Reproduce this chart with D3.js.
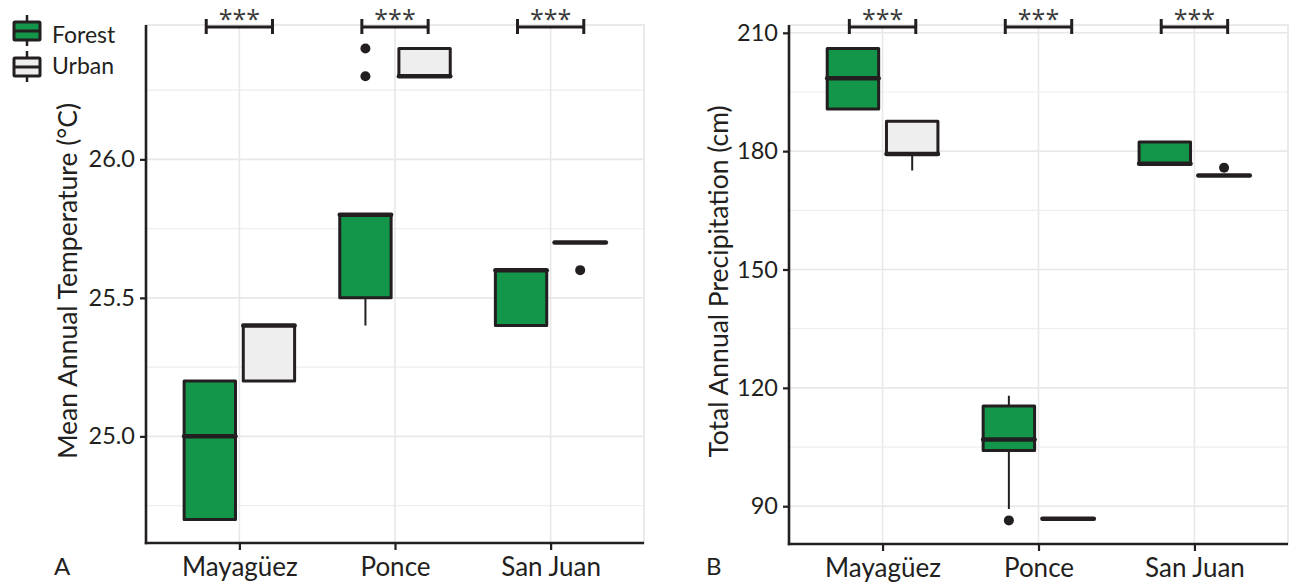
<!DOCTYPE html>
<html><head><meta charset="utf-8">
<script src="https://cdn.jsdelivr.net/npm/d3@7/dist/d3.min.js"></script>
<style>
body{margin:0;background:#fff}
svg{display:block}
text{font-family:"Lato","Open Sans",sans-serif;fill:#231f20}
</style>
</head><body>
<svg id="chart" width="1290" height="582"></svg>
<script>
// ---------- data ----------
const sites = ["Mayagüez", "Ponce", "San Juan"];
const groups = ["Forest", "Urban"];
const groupColors = ["#139649", "#eeeeee"];

// five-number summaries per site: [min, q1, median, q3, max]
const tempForest = [[24.7, 24.7, 25.0, 25.2, 25.2], [25.4, 25.5, 25.8, 25.8, 25.8], [25.4, 25.4, 25.6, 25.6, 25.6]];
const tempUrban  = [[25.2, 25.2, 25.4, 25.4, 25.4], [26.3, 26.3, 26.3, 26.4, 26.4], [25.7, 25.7, 25.7, 25.7, 25.7]];
const tempForestOutliers = [[], [26.3, 26.4], []];
const tempUrbanOutliers  = [[], [], [25.6]];

const precipForest = [[190.7, 190.7, 198.5, 206.0, 206.0], [89.3, 104.1, 106.9, 115.4, 118.0], [176.3, 176.8, 176.8, 182.3, 182.3]];
const precipUrban  = [[175.1, 179.3, 179.3, 187.6, 187.6], [86.8, 86.8, 86.8, 86.8, 86.8], [173.8, 173.8, 173.8, 173.8, 173.8]];
const precipForestOutliers = [[], [86.4], []];
const precipUrbanOutliers  = [[], [], [175.8]];

const tempTicks = [25.0, 25.5, 26.0];
const tempMinorTicks = [24.75, 25.25, 25.75, 26.25];
const precipTicks = [90, 120, 150, 180, 210];
const precipMinorTicks = [105, 135, 165, 195];
const sigLabels = ["***", "***", "***"];

// ---------- drawing ----------
const svg = d3.select("#chart");
const INK = "#231f20";

function panel(cfg) {
  const {left, right, top, bottom, forest, urban, fOut, uOut, ticks, minor, fmt, title, titleX, letter, letterX} = cfg;
  const g = svg.append("g");
  const allVals = forest.flat().concat(urban.flat(), fOut.flat(), uOut.flat());
  const [lo, hi] = d3.extent(allVals);
  const pad = (hi - lo) * 0.05;
  const y = d3.scaleLinear().domain([lo - pad, hi + pad]).range([bottom, top]);
  const x = d3.scalePoint().domain(sites).range([left, right]).padding(0.6);
  const step = x.step();
  const dodge = d3.scaleBand().domain(groups).range([-0.38 * step, 0.38 * step]);
  const boxW = 0.33 * step;

  // grid
  g.selectAll(".gmin").data(minor).join("line")
    .attr("x1", left).attr("x2", right).attr("y1", d => y(d)).attr("y2", d => y(d))
    .attr("stroke", "#eeeeee").attr("stroke-width", 1.2);
  g.selectAll(".gmaj").data(ticks).join("line")
    .attr("x1", left).attr("x2", right).attr("y1", d => y(d)).attr("y2", d => y(d))
    .attr("stroke", "#e8e8e8").attr("stroke-width", 1.6);
  g.selectAll(".gx").data(sites).join("line")
    .attr("x1", d => x(d)).attr("x2", d => x(d)).attr("y1", top).attr("y2", bottom)
    .attr("stroke", "#e8e8e8").attr("stroke-width", 1.6);
  g.append("rect").attr("x", left).attr("y", top).attr("width", right - left).attr("height", bottom - top)
    .attr("fill", "none").attr("stroke", "#e8e8e8").attr("stroke-width", 1.8);

  // boxes
  const series = [{name: "Forest", stats: forest, out: fOut}, {name: "Urban", stats: urban, out: uOut}];
  series.forEach((s, si) => {
    const col = groupColors[si];
    s.stats.forEach((st, i) => {
      const cx = x(sites[i]) + dodge(s.name) + dodge.bandwidth() / 2;
      const [mn, q1, md, q3, mx] = st;
      g.append("line").attr("x1", cx).attr("x2", cx).attr("y1", y(q3)).attr("y2", y(mx))
        .attr("stroke", INK).attr("stroke-width", 2);
      g.append("line").attr("x1", cx).attr("x2", cx).attr("y1", y(q1)).attr("y2", y(mn))
        .attr("stroke", INK).attr("stroke-width", 2);
      g.append("rect").attr("x", cx - boxW / 2).attr("y", y(q3)).attr("width", boxW)
        .attr("height", Math.max(0, y(q1) - y(q3)))
        .attr("fill", col).attr("stroke", INK).attr("stroke-width", 3).attr("stroke-linejoin", "round");
      g.append("line").attr("x1", cx - boxW / 2).attr("x2", cx + boxW / 2).attr("y1", y(md)).attr("y2", y(md))
        .attr("stroke", INK).attr("stroke-width", 4.5).attr("stroke-linecap", "round");
      s.out[i].forEach(o => {
        g.append("circle").attr("cx", cx).attr("cy", y(o)).attr("r", 5).attr("fill", INK);
      });
    });
  });

  // significance brackets
  sites.forEach((s, i) => {
    const cx = x(s), hw = 0.213 * step, by = top + 2;
    const bg = g.append("g").attr("stroke", INK).attr("stroke-width", 3);
    bg.append("line").attr("x1", cx - hw).attr("x2", cx + hw).attr("y1", by).attr("y2", by);
    bg.append("line").attr("x1", cx - hw).attr("x2", cx - hw).attr("y1", by - 8).attr("y2", by + 7);
    bg.append("line").attr("x1", cx + hw).attr("x2", cx + hw).attr("y1", by - 8).attr("y2", by + 7);
    g.append("text").attr("x", cx).attr("y", by + 1).attr("text-anchor", "middle")
      .style("font-family", '"Open Sans",sans-serif').style("font-size", "25px").style("fill", "#3a3a3a")
      .text(sigLabels[i]);
  });

  // axes
  const ya = g.append("g").attr("transform", `translate(${left},0)`)
    .call(d3.axisLeft(y).tickValues(ticks).tickFormat(fmt).tickSize(6).tickPadding(5));
  const xa = g.append("g").attr("transform", `translate(0,${bottom})`)
    .call(d3.axisBottom(x).tickSize(7).tickPadding(8));
  [ya, xa].forEach(a => {
    a.select(".domain").remove();
    a.selectAll(".tick line").attr("stroke", INK).attr("stroke-width", 2.2);
    a.selectAll("text").attr("fill", INK).style("font-family", '"Lato","Open Sans",sans-serif');
  });
  ya.selectAll("text").style("font-size", "23.5px");
  xa.selectAll("text").style("font-size", "26px");
  g.append("line").attr("x1", left).attr("x2", left).attr("y1", top).attr("y2", bottom + 1.2)
    .attr("stroke", INK).attr("stroke-width", 2.6);
  g.append("line").attr("x1", left - 1.2).attr("x2", right).attr("y1", bottom).attr("y2", bottom)
    .attr("stroke", INK).attr("stroke-width", 2.6);

  // title
  g.append("text").attr("transform", `translate(${titleX},${(top + bottom) / 2 - 3}) rotate(-90)`)
    .attr("text-anchor", "middle").style("font-size", "26.5px").text(title);
  g.append("text").attr("x", letterX).attr("y", 575).style("font-size", "24px").text(letter);
}

panel({left: 146, right: 644, top: 25, bottom: 543,
  forest: tempForest, urban: tempUrban, fOut: tempForestOutliers, uOut: tempUrbanOutliers,
  ticks: tempTicks, minor: tempMinorTicks, fmt: d3.format(".1f"),
  title: "Mean Annual Temperature (\u00B0C)", titleX: 77, letter: "A", letterX: 54});
panel({left: 789, right: 1288, top: 25, bottom: 544,
  forest: precipForest, urban: precipUrban, fOut: precipForestOutliers, uOut: precipUrbanOutliers,
  ticks: precipTicks, minor: precipMinorTicks, fmt: d3.format("d"),
  title: "Total Annual Precipitation (cm)", titleX: 728, letter: "B", letterX: 706});

// legend
const leg = svg.append("g");
const legTextY = [43, 74];
groups.forEach((gname, i) => {
  const ky = 21 + i * 36;
  const lg = leg.append("g");
  lg.append("line").attr("x1", 27).attr("x2", 27).attr("y1", ky - 6).attr("y2", ky + 25)
    .attr("stroke", INK).attr("stroke-width", 2.5);
  lg.append("rect").attr("x", 14).attr("y", ky + 1).attr("width", 26).attr("height", 18)
    .attr("fill", groupColors[i]).attr("stroke", INK).attr("stroke-width", 3).attr("rx", 1);
  lg.append("line").attr("x1", 14).attr("x2", 40).attr("y1", ky + 10).attr("y2", ky + 10)
    .attr("stroke", INK).attr("stroke-width", 3);
  lg.append("text").attr("x", 52).attr("y", legTextY[i]).style("font-size", "23px").text(gname);
});
</script>
</body></html>
